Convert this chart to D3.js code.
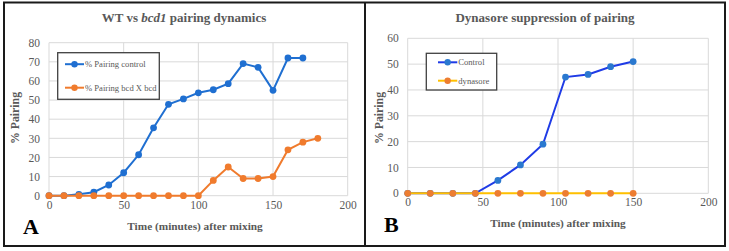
<!DOCTYPE html>
<html>
<head>
<meta charset="utf-8">
<script src="https://cdn.jsdelivr.net/npm/d3@7"></script>
<style>
  body { margin: 0; background: #fff; }
</style>
</head>
<body>
<div id="chart"></div>
<script>
// Panel A data
const timeA = [0, 10, 20, 30, 40, 50, 60, 70, 80, 90, 100, 110, 120, 130, 140, 150, 160, 170, 180]
const controlA = [0, 0, 0.7, 1.8, 5.6, 12, 21.4, 35.5, 47.8, 50.6, 53.8, 55.4, 58.6, 69.1, 67.1, 55.1, 72, 72, null]
const bcdA = [0, 0, 0, 0, 0, 0, 0, 0, 0, 0, 0, 8, 15, 9, 9, 10, 24, 28, 30]

// Panel B data
const timeB = [0, 15, 30, 45, 60, 75, 90, 105, 120, 135, 150]
const controlB = [0, 0, 0, 0, 5, 11, 19, 45, 46, 49, 51]
const dynasoreB = [0, 0, 0, 0, 0, 0, 0, 0, 0, 0, 0]

const xTicks = [0, 50, 100, 150, 200]
const yTicksA = [0, 10, 20, 30, 40, 50, 60, 70, 80]
const yTicksB = [0, 10, 20, 30, 40, 50, 60]

const W = 729, H = 251
const gray = "#595959"
const serif = "'Liberation Serif', 'Times New Roman', 'DejaVu Serif', serif"

const svg = d3.select("#chart").append("svg")
    .attr("width", W)
    .attr("height", H)

// draw one panel
function drawPanel(p) {
    let x = d3.scaleLinear().domain([0, 200]).range([p.left, p.right])
    let y = d3.scaleLinear().domain([0, p.yMax]).range([p.bottom, p.top])
    let g = svg.append("g")

    // gridlines
    g.selectAll(".hgrid").data(p.yTicks).enter().append("line")
        .attr("x1", p.left).attr("x2", p.right)
        .attr("y1", d => y(d)).attr("y2", d => y(d))
        .attr("stroke", "#d9d9d9").attr("stroke-width", 1)
    g.selectAll(".vgrid").data(xTicks).enter().append("line")
        .attr("x1", d => x(d)).attr("x2", d => x(d))
        .attr("y1", p.top).attr("y2", p.bottom)
        .attr("stroke", "#d9d9d9").attr("stroke-width", 1)

    // axes (labels only)
    let xAxis = d3.axisBottom(x).tickValues(xTicks).tickSize(0).tickPadding(5)
    let yAxis = d3.axisLeft(y).tickValues(p.yTicks).tickSize(0).tickPadding(p.yPad)
    let xg = g.append("g").attr("transform", `translate(0, ${p.bottom})`).call(xAxis)
    let yg = g.append("g").attr("transform", `translate(${p.left}, 0)`).call(yAxis)
    ;[xg, yg].forEach(a => {
        a.attr("font-family", null).attr("font-size", null)
        a.select(".domain").remove()
        a.selectAll("text").attr("fill", gray).style("font-size", "11.5px")
    })

    // series
    p.series.forEach(s => {
        let pts = p.time.map((t, i) => ({t: t, v: s.values[i]})).filter(d => d.v != null)
        let line = d3.line().x(d => x(d.t)).y(d => y(d.v))
        g.append("path").datum(pts)
            .attr("fill", "none")
            .attr("stroke", s.line)
            .attr("stroke-width", 2)
            .attr("d", line)
        g.selectAll(null).data(pts).enter().append("circle")
            .attr("cx", d => x(d.t)).attr("cy", d => y(d.v))
            .attr("r", 3.4)
            .attr("fill", s.marker)
    })

    // title
    g.append("text")
        .attr("x", p.titleX).attr("y", 22)
        .attr("text-anchor", "middle")
        .attr("fill", gray)
        .style("font-size", "13px").style("font-weight", "bold")
        .html(p.title)

    // axis titles
    g.append("text")
        .attr("x", p.xTitleX).attr("y", p.xTitleY)
        .attr("text-anchor", "middle")
        .attr("fill", gray)
        .style("font-size", "11.3px").style("font-weight", "bold")
        .text("Time (minutes) after mixing")
    g.append("text")
        .attr("transform", `translate(${p.yTitleX}, 118) rotate(-90)`)
        .attr("text-anchor", "middle")
        .attr("fill", gray)
        .style("font-size", "11.8px").style("font-weight", "bold")
        .text("% Pairing")

    // legend
    let lg = g.append("g")
    lg.append("rect")
        .attr("x", p.legend.x).attr("y", p.legend.y)
        .attr("width", p.legend.w).attr("height", p.legend.h)
        .attr("fill", "#fff").attr("stroke", "#404040").attr("stroke-width", 1.3)
    p.series.forEach((s, i) => {
        let ly = p.legend.y + p.legend.rowY[i]
        lg.append("line")
            .attr("x1", p.legend.lx1).attr("x2", p.legend.lx2)
            .attr("y1", ly).attr("y2", ly)
            .attr("stroke", s.line).attr("stroke-width", 2)
        lg.append("circle")
            .attr("cx", (p.legend.lx1 + p.legend.lx2) / 2).attr("cy", ly)
            .attr("r", 3.2).attr("fill", s.marker)
        lg.append("text")
            .attr("x", p.legend.lx2 + 1).attr("y", ly + 3)
            .attr("fill", gray)
            .style("font-size", "8.6px")
            .text(s.name)
    })

    // panel letter
    g.append("text")
        .attr("x", p.letterX).attr("y", p.letterY)
        .attr("fill", "#000")
        .style("font-size", "22px").style("font-weight", "bold")
        .text(p.letter)
}

drawPanel({
    left: 49, right: 347.7, top: 42.7, bottom: 195.7, yMax: 80,
    yTicks: yTicksA, yPad: 9, time: timeA,
    series: [
        {name: "% Pairing control", values: controlA, line: "#1f6fd1", marker: "#1f6fd1"},
        {name: "% Pairing bcd X bcd", values: bcdA, line: "#f07b2d", marker: "#f07b2d"}
    ],
    title: "WT vs <tspan font-style='italic'>bcd1</tspan> pairing dynamics",
    titleX: 184, xTitleX: 195, xTitleY: 230, yTitleX: 19,
    legend: {x: 57.7, y: 52.7, w: 101.6, h: 46.6, rowY: [11.5, 35], lx1: 65, lx2: 84},
    letter: "A", letterX: 23, letterY: 234
})

drawPanel({
    left: 407.7, right: 708.3, top: 38.3, bottom: 193.3, yMax: 60,
    yTicks: yTicksB, yPad: 9, time: timeB,
    series: [
        {name: "Control", values: controlB, line: "#1f3be6", marker: "#2a78cf"},
        {name: "dynasore", values: dynasoreB, line: "#ffc000", marker: "#ed7d31"}
    ],
    title: "Dynasore suppression of pairing",
    titleX: 545, xTitleX: 558, xTitleY: 227, yTitleX: 383,
    legend: {x: 426.3, y: 53.3, w: 70.4, h: 36.7, rowY: [9, 27.4], lx1: 438, lx2: 457.3},
    letter: "B", letterX: 384, letterY: 232
})

// all text in serif
svg.selectAll("text").style("font-family", serif)

// outer frame and divider
svg.append("rect")
    .attr("x", 4).attr("y", 2.5).attr("width", 721).attr("height", 243.5)
    .attr("fill", "none").attr("stroke", "#1a1a1a").attr("stroke-width", 2)
svg.append("line")
    .attr("x1", 365).attr("x2", 365).attr("y1", 2.5).attr("y2", 246)
    .attr("stroke", "#1a1a1a").attr("stroke-width", 2)
</script>
</body>
</html>
